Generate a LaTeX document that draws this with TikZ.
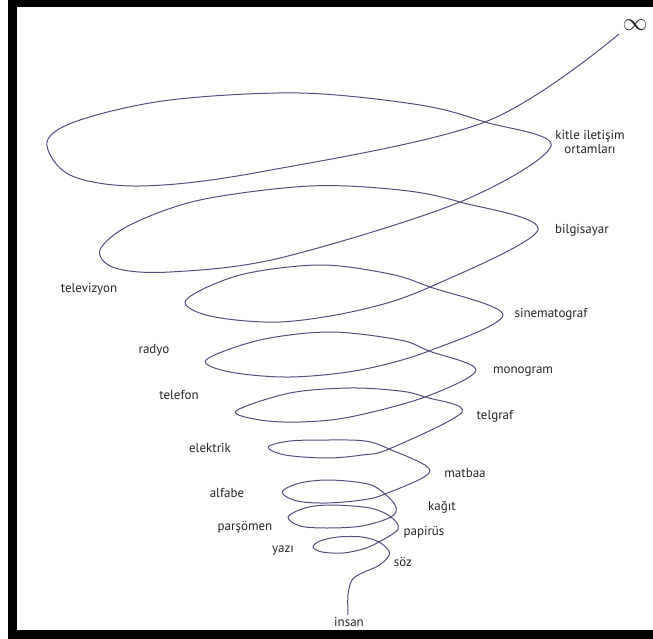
\documentclass[tikz,border=0pt]{standalone}
\usepackage{fontspec}
\setmainfont{PT Sans}
\begin{document}
\begin{tikzpicture}[x=1pt,y=-1pt,
  lbl/.style={font=\fontsize{13}{13.5}\selectfont, text=black!85, inner sep=0pt},
  spiral/.style={draw=spcol, line width=1pt, line join=round}]
\definecolor{spcol}{RGB}{80,80,128}
\useasboundingbox (0,0) rectangle (653,639);
\fill[white] (0,0) rectangle (653,639);
\fill[black] (8,0) rectangle (653,7);
\fill[black] (8,0) rectangle (17,639);
\fill[black] (8,630) rectangle (653,639);
\draw[spiral] plot[smooth, tension=0.55] coordinates {
 (348,615) (348,595) (352,580) (362,573) (378,566) (388,557) (389,551)
 (379,542) (362,537) (338,537) (320,541) (313,547) (322,552) (343,553) (363,549)
 (379,542) (398,529)
 (391,517) (370,508) (330,505) (305,508) (288,517) (300,526) (327,528) (362,526)
 (391,517) (396,507)
 (385,494) (368,484) (330,480) (300,483) (282,492) (297,501) (327,503) (362,500)
 (385,494) (430,471)
 (389,449) (365,441) (328,440) (290,441) (268,447) (285,455) (327,458) (362,455)
 (389,449) (462,412)
 (425,397) (400,391) (350,388) (290,393) (236,411) (260,420) (300,422) (350,417)
 (425,397) (476,370)
 (429,351) (400,340) (330,332) (260,340) (206,360) (230,372) (290,377) (360,370)
 (429,351) (503,315)
 (430,287) (390,274) (320,265) (240,275) (186,300) (210,316) (280,322) (360,310)
 (430,287) (538,230)
 (460,202) (400,190) (310,186) (200,200) (130,225) (100,250) (115,268) (170,272) (280,258)
 (460,202) (551,146)
 (485,122) (420,105) (300,93) (170,100) (80,120) (47,142) (70,175) (140,186) (260,172)
 (485,122) (619,34)
};
\node[inner sep=0pt, text=black!85, font=\fontsize{27}{27}\selectfont] (inf) at (635,25) {$\infty$};
\node[lbl, align=center] (kitle) at (590,142) {kitle iletişim\\ortamları};
\node[lbl] (bilg) at (582,230) {bilgisayar};
\node[lbl] (tv) at (89,289) {televizyon};
\node[lbl] (sine) at (551,314) {sinematograf};
\node[lbl] (rad) at (154,350) {radyo};
\node[lbl] (mono) at (523,372) {monogram};
\node[lbl] (tfon) at (179,395) {telefon};
\node[lbl] (tgraf) at (495,416) {telgraf};
\node[lbl] (elek) at (210,448) {elektrik};
\node[lbl] (matb) at (465,473) {matbaa};
\node[lbl] (alf) at (227,493) {alfabe};
\node[lbl] (kag) at (442,507) {kağıt};
\node[lbl] (pars) at (245,527) {parşömen};
\node[lbl] (pap) at (424,532) {papirüs};
\node[lbl] (yazi) at (283,551) {yazı};
\node[lbl] (soz) at (403,562) {söz};
\node[lbl] (ins) at (349,622) {insan};
\end{tikzpicture}
\end{document}
